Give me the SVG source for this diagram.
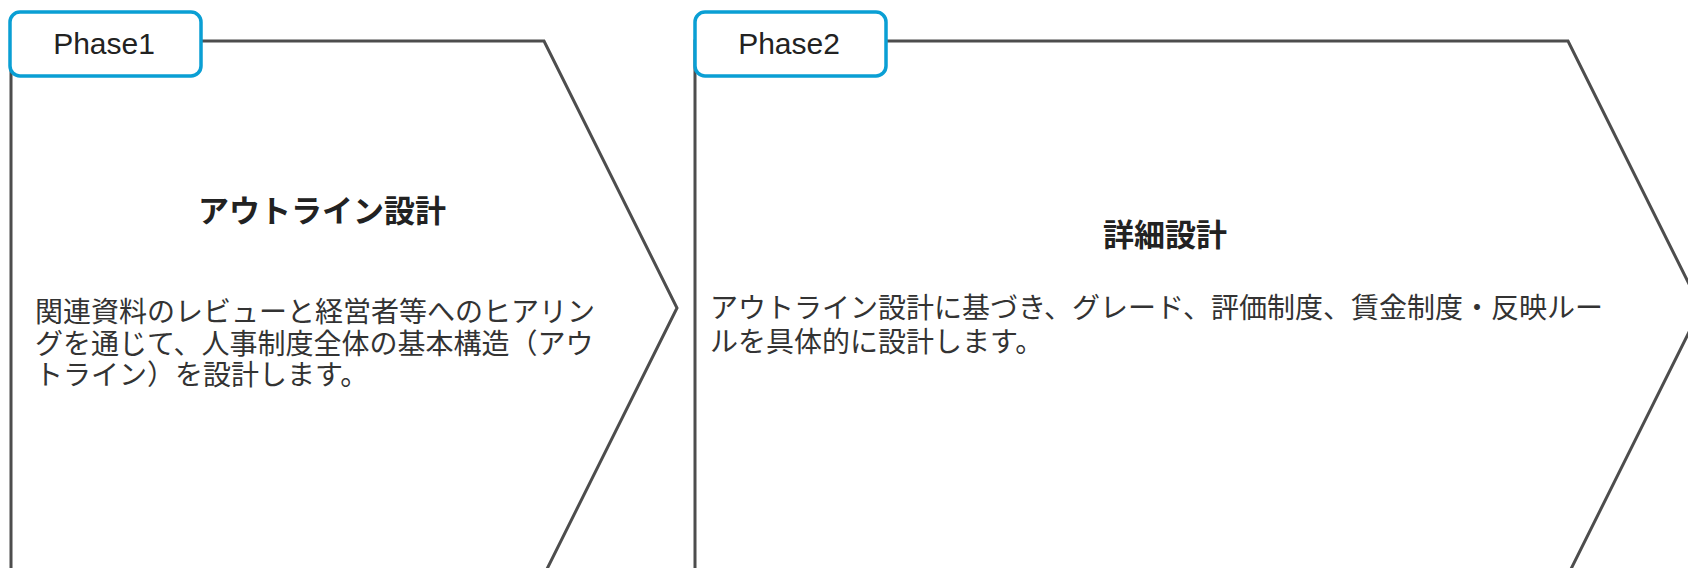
<svg xmlns="http://www.w3.org/2000/svg" width="1688" height="568" viewBox="0 0 1688 568">
<style>
.chev{fill:#ffffff;stroke:#4d4d4d;stroke-width:3;stroke-linejoin:miter}
.tag{fill:#ffffff;stroke:#0a9fd4;stroke-width:3.5}
.tagtxt{font-family:"Liberation Sans","Noto Sans",sans-serif;font-size:30px;fill:#222222;text-anchor:middle}
.title{font-family:"Noto Sans CJK JP",sans-serif;font-size:31px;font-weight:bold;fill:#222222;text-anchor:middle}
.body{font-family:"Noto Sans CJK JP",sans-serif;font-size:28px;fill:#333333}
</style>
<rect width="1688" height="568" fill="#ffffff"/>
<g id="phase1">
<polygon class="chev" points="11,41 544,41 677,308 544,575 11,575"/>
<rect class="tag" x="10" y="12" width="191" height="64" rx="10"/>
<text class="tagtxt" x="104" y="54">Phase1</text>
<text class="title" x="322" y="222">アウトライン設計</text>
<text class="body"><tspan x="35" y="322">関連資料のレビューと経営者等へのヒアリン</tspan><tspan x="35" y="354">グを通じて、人事制度全体の基本構造（アウ</tspan><tspan x="35" y="385">トライン）を設計します。</tspan></text>
</g>
<g id="phase2">
<polygon class="chev" points="695,41 1568,41 1701,308 1568,575 695,575"/>
<rect class="tag" x="695" y="12" width="191" height="64" rx="10"/>
<text class="tagtxt" x="789" y="54">Phase2</text>
<text class="title" x="1165" y="246">詳細設計</text>
<text class="body"><tspan x="710" y="318">アウトライン設計に基づき、グレード、評価制度、賃金制度・反映ルー</tspan><tspan x="710" y="352">ルを具体的に設計します。</tspan></text>
</g>
<g id="connectors"></g>
</svg>
